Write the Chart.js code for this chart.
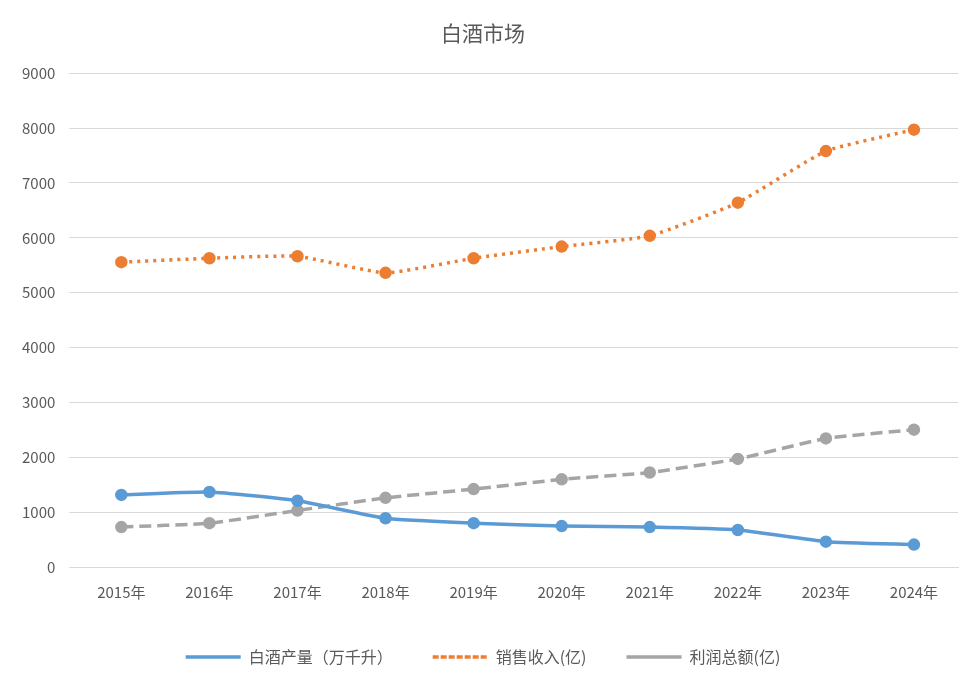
<!DOCTYPE html>
<html>
<head>
<meta charset="utf-8">
<script src="https://cdn.jsdelivr.net/npm/chart.js@4/dist/chart.umd.min.js"></script>
<style>
  html, body { margin: 0; padding: 0; background: #fff; }
  #wrap { width: 980px; height: 689px; }
</style>
</head>
<body>
<div id="wrap"><canvas id="myChart" width="980" height="689"></canvas></div>
<script>
const years = ["2015年", "2016年", "2017年", "2018年", "2019年", "2020年", "2021年", "2022年", "2023年", "2024年"];
const output = [1314, 1367, 1207, 888, 799, 746, 728, 675, 462, 408];
const revenue = [5556, 5627, 5663, 5361, 5627, 5840, 6036, 6640, 7580, 7971];
const profit = [728, 799, 1030, 1260, 1420, 1598, 1722, 1970, 2343, 2503];

const font = "'Noto Sans CJK SC', 'DejaVu Sans', sans-serif";

new Chart(document.getElementById('myChart').getContext('2d'), {
    type: 'line',
    data: {
        labels: years,
        datasets: [{
            label: "白酒产量（万千升）",
            data: output,
            borderColor: "#5b9bd5",
            backgroundColor: "#5b9bd5",
            borderWidth: 3.5,
            pointRadius: 4.5,
            tension: 0.15
        }, {
            label: "销售收入(亿)",
            data: revenue,
            borderColor: "#ed7d31",
            backgroundColor: "#ed7d31",
            borderWidth: 3.5,
            borderDash: [3, 5],
            pointRadius: 4.5,
            tension: 0.15
        }, {
            label: "利润总额(亿)",
            data: profit,
            borderColor: "#a5a5a5",
            backgroundColor: "#a5a5a5",
            borderWidth: 3.5,
            borderDash: [12, 6],
            pointRadius: 4.5,
            tension: 0.15
        }]
    },
    options: {
        responsive: false,
        animation: false,
        layout: { padding: { left: 8, right: 22, top: 12, bottom: 14 } },
        plugins: {
            title: {
                display: true,
                text: "白酒市场",
                color: "#595959",
                font: { family: font, size: 21, weight: 'normal' },
                padding: { top: 8, bottom: 28 }
            },
            legend: {
                position: 'bottom',
                labels: {
                    color: "#595959",
                    font: { family: font, size: 16 },
                    boxWidth: 55,
                    boxHeight: 0,
                    padding: 40
                }
            }
        },
        scales: {
            x: {
                offset: true,
                grid: { display: false },
                border: { color: "#d9d9d9" },
                ticks: { color: "#595959", font: { family: font, size: 15 }, maxRotation: 0, padding: 8 }
            },
            y: {
                min: 0,
                max: 9000,
                ticks: { stepSize: 1000, color: "#595959", font: { family: font, size: 15 }, padding: 14,
                         callback: v => String(v) },
                grid: { color: "#d9d9d9" },
                border: { display: false }
            }
        }
    }
});
</script>
</body>
</html>
